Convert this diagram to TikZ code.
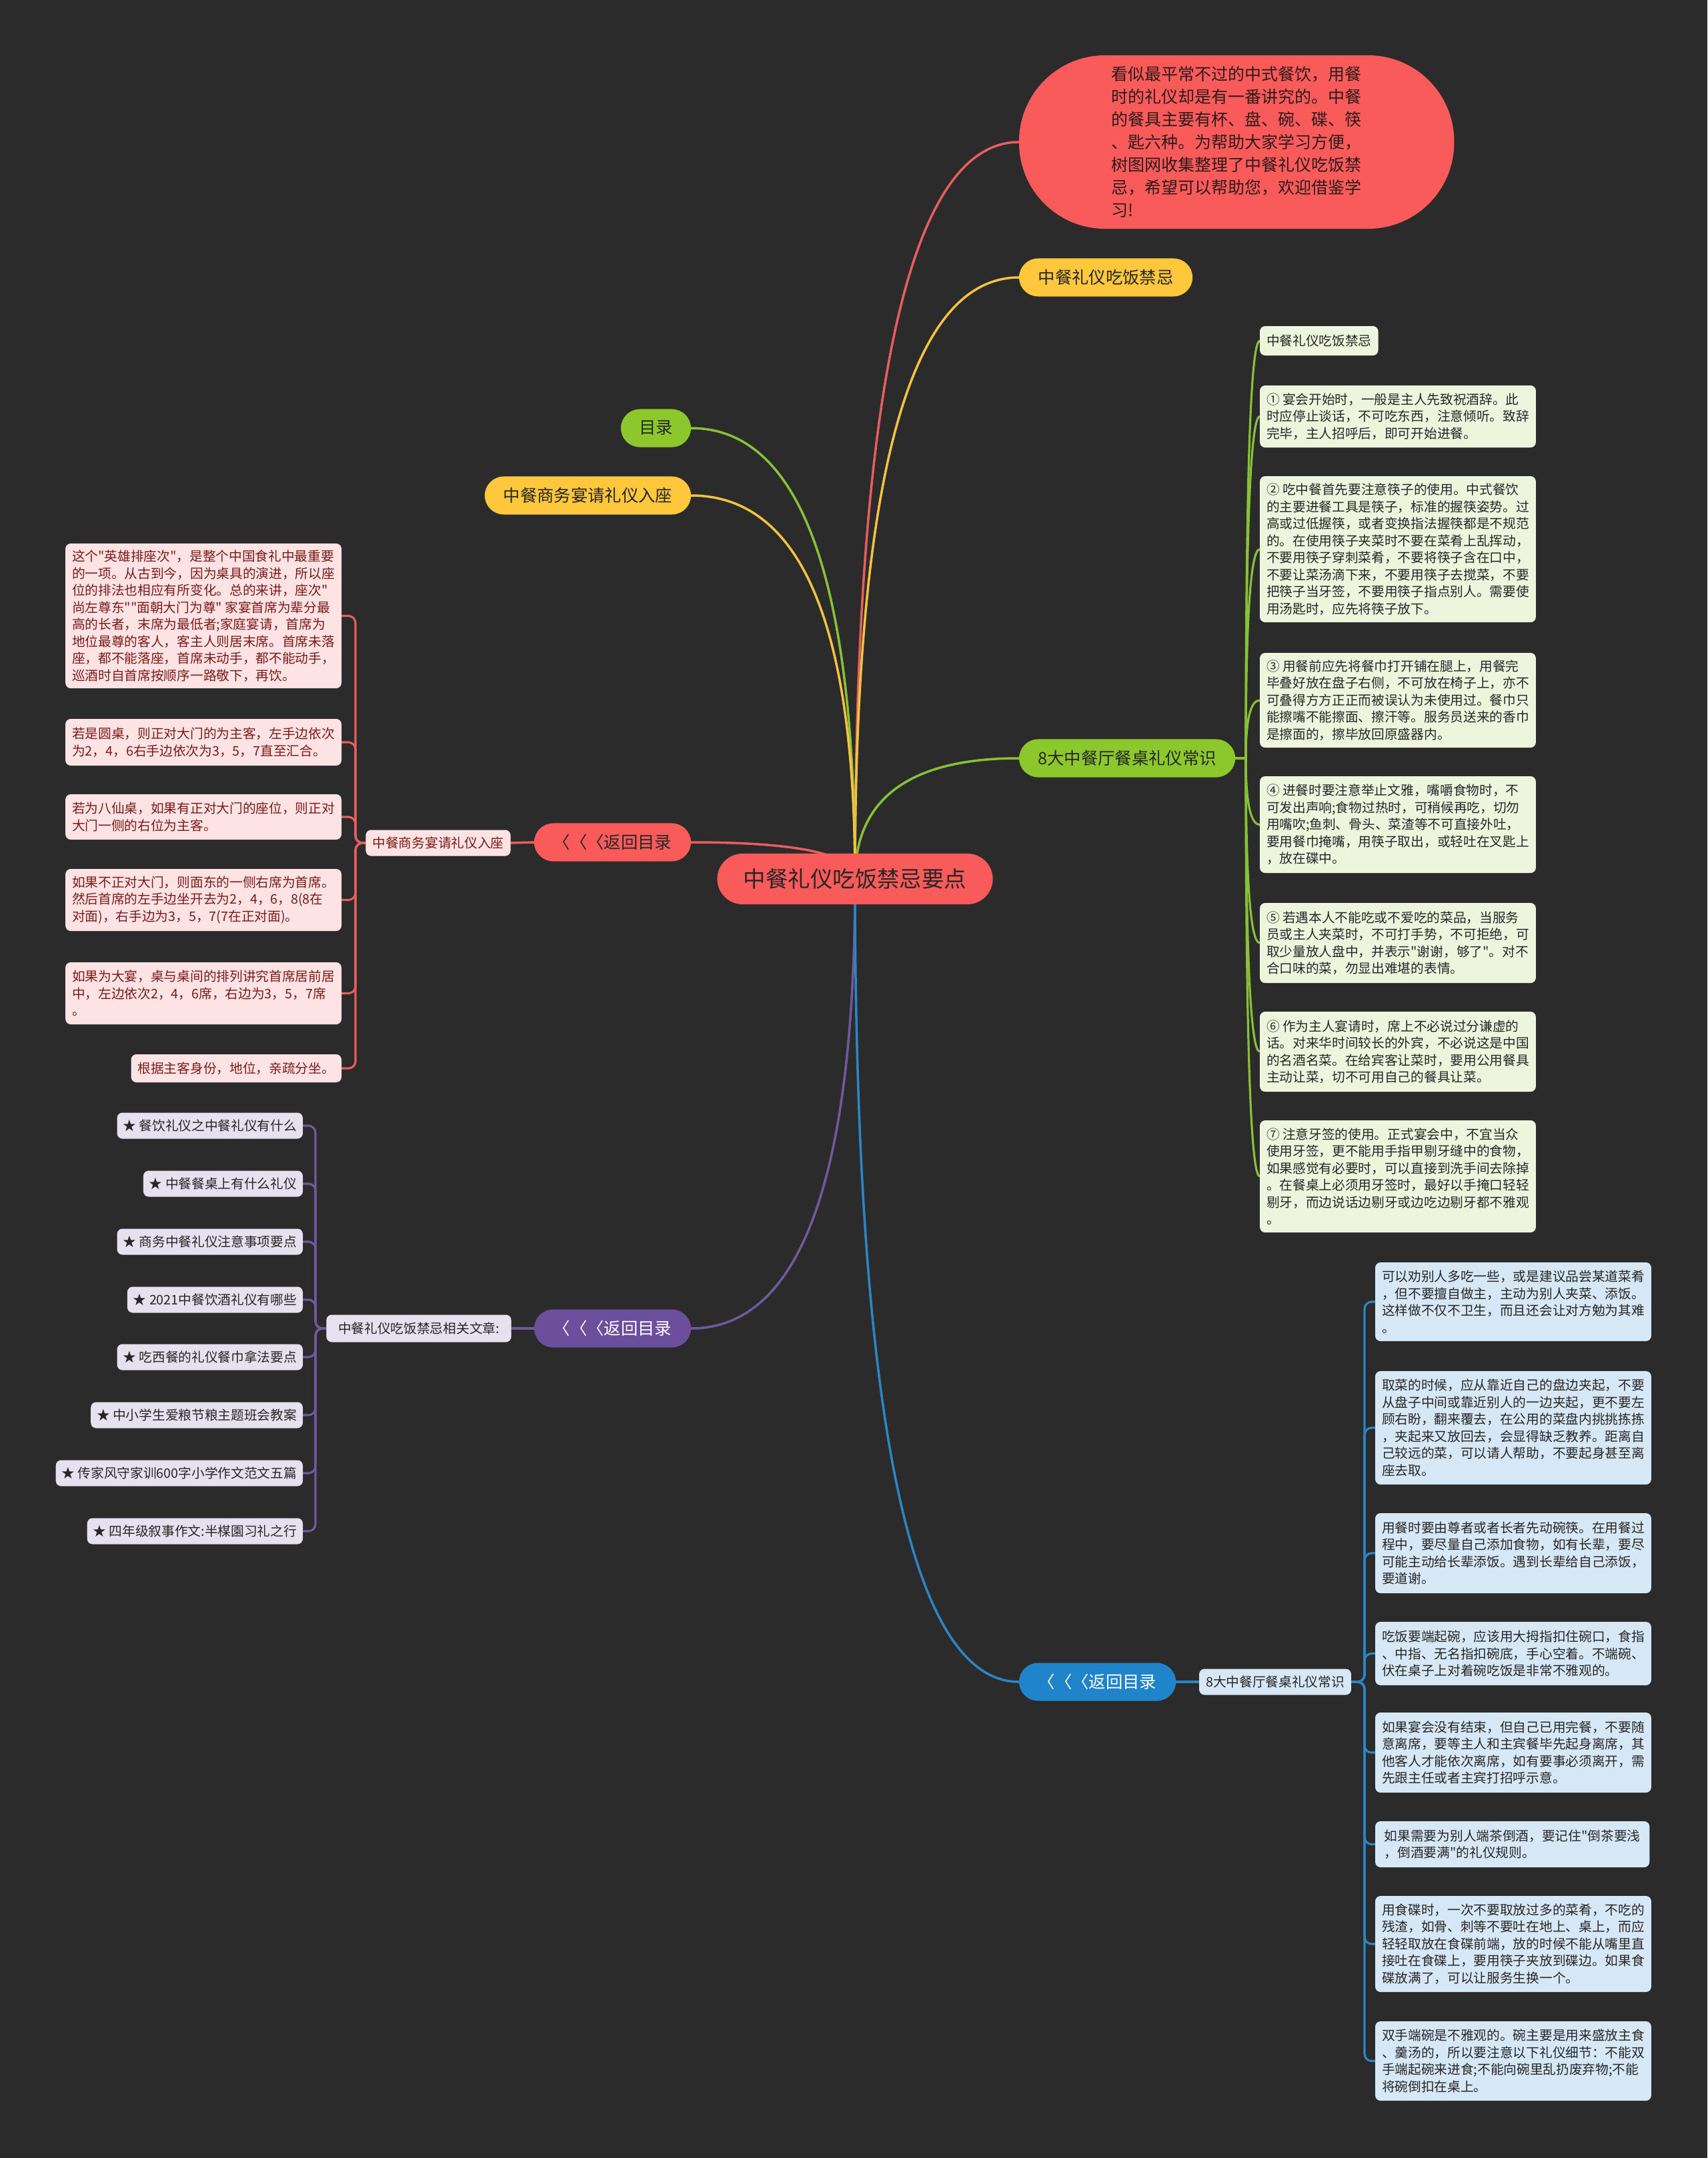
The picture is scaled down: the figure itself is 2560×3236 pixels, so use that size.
\documentclass[tikz,border=0pt]{standalone}
\usepackage{fontspec}
\setmainfont{Noto Sans CJK SC}
\newfontfamily\cjk{Noto Sans CJK SC}
\usetikzlibrary{calc}
\definecolor{bgc}{HTML}{2B2B2B}
\definecolor{redc}{HTML}{F95A5A}
\definecolor{redl}{HTML}{E85E5E}
\definecolor{yelc}{HTML}{FFC83C}
\definecolor{yell}{HTML}{F2C33F}
\definecolor{grnc}{HTML}{8CC72C}
\definecolor{grnl}{HTML}{87C236}
\definecolor{purc}{HTML}{6B4E9C}
\definecolor{purl}{HTML}{6F5A9E}
\definecolor{bluc}{HTML}{1F84C9}
\definecolor{blul}{HTML}{2A87C6}
\definecolor{gfill}{HTML}{EEF5DD}
\definecolor{pfill}{HTML}{FDE3E3}
\definecolor{ptext}{HTML}{7A1A1A}
\definecolor{vfill}{HTML}{E6E1EE}
\definecolor{bfill}{HTML}{D6E8F5}
\definecolor{txtdark}{HTML}{262626}
\definecolor{bubtext}{HTML}{2E1A1A}
\pgfdeclarelayer{back}
\pgfdeclarelayer{lines}
\pgfsetlayers{back,lines,main}
\tikzset{
  every node/.style={inner sep=0pt, outer sep=0pt},
  qc/.style={to path={.. controls ($(\tikztostart)!0.6667!(\tikztostart|-\tikztotarget)$) and ($(\tikztotarget)!0.6667!(\tikztostart|-\tikztotarget)$) .. (\tikztotarget)}},
  mline/.style={line width=1pt},
  brk/.style={line width=0.9pt, rounded corners=3pt},
  pill/.style={rectangle, rounded corners=0.285cm, minimum height=0.57cm, font=\cjk\fontsize{7.2pt}{9pt}\selectfont, text=txtdark},
  boxbase/.style={rectangle, rounded corners=0.08cm, align=left, font=\cjk\fontsize{5.6pt}{7.26pt}\selectfont, inner xsep=0.1cm},
  gbox/.style={boxbase, fill=gfill, text=txtdark, anchor=north west, minimum width=4.11cm},
  pbox/.style={boxbase, fill=pfill, text=ptext, anchor=north east, minimum width=4.11cm},
  bbox/.style={boxbase, fill=bfill, text=txtdark, anchor=north west, minimum width=4.11cm},
  vbox/.style={boxbase, fill=vfill, text=txtdark, anchor=east, minimum height=0.39cm, inner xsep=0.09cm},
}
\begin{document}
\cjk
\begin{tikzpicture}[x=0.01cm,y=-0.01cm]
\useasboundingbox (0,0) rectangle (2560,3236);
\begin{pgfonlayer}{back}
\fill[bgc] (0,0) rectangle (2560,3236);
\end{pgfonlayer}

% central and main nodes
\node[rectangle, fill=redc, rounded corners=0.38cm, minimum width=4.13cm, minimum height=0.76cm, font=\cjk\fontsize{9.5pt}{11pt}\selectfont, text=txtdark] (ctr) at (1282,1318) {中餐礼仪吃饭禁忌要点};

\node[rectangle, fill=redc, rounded corners=1.29cm, minimum width=6.52cm, minimum height=2.6cm, align=left, font=\cjk\fontsize{7.1pt}{9.67pt}\selectfont, text=bubtext, anchor=west] (bub) at (1528,213) {看似最平常不过的中式餐饮，用餐\\时的礼仪却是有一番讲究的。中餐\\的餐具主要有杯、盘、碗、碟、筷\\、匙六种。为帮助大家学习方便，\\树图网收集整理了中餐礼仪吃饭禁\\忌，希望可以帮助您，欢迎借鉴学\\习!};

\node[pill, fill=yelc, minimum width=2.6cm, anchor=west] (yjj) at (1528,416) {中餐礼仪吃饭禁忌};
\node[pill, fill=grnc, minimum width=1.05cm, anchor=east] (ml) at (1036,642) {目录};
\node[pill, fill=yelc, minimum width=3.09cm, anchor=east] (sw) at (1036,743) {中餐商务宴请礼仪入座};
\node[pill, fill=grnc, minimum width=3.24cm, anchor=west] (g8) at (1528,1137) {8大中餐厅餐桌礼仪常识};
\node[pill, fill=redc, minimum width=2.35cm, anchor=east] (rret) at (1036,1263) {〈〈〈返回目录};
\node[pill, fill=purc, text=white, minimum width=2.35cm, anchor=east] (vret) at (1036,1992) {〈〈〈返回目录};
\node[pill, fill=bluc, text=white, minimum width=2.35cm, anchor=west] (bret) at (1528,2522) {〈〈〈返回目录};

% small parent boxes
\node[boxbase, fill=pfill, text=ptext, minimum width=2.17cm, minimum height=0.39cm] (psmall) at (657,1264) {中餐商务宴请礼仪入座};
\node[boxbase, fill=vfill, text=txtdark, minimum width=2.77cm, minimum height=0.41cm] (vsmall) at (628,1992) {中餐礼仪吃饭禁忌相关文章:};
\node[boxbase, fill=bfill, text=txtdark, minimum width=2.27cm, minimum height=0.39cm] (bsmall) at (1912,2522) {8大中餐厅餐桌礼仪常识};

% green children
\node[gbox, minimum width=1.75cm, minimum height=0.44cm] (ga) at (1889,489) {中餐礼仪吃饭禁忌};
\node[gbox, minimum height=0.93cm] (gb) at (1889,578) {① 宴会开始时，一般是主人先致祝酒辞。此\\时应停止谈话，不可吃东西，注意倾听。致辞\\完毕，主人招呼后，即可开始进餐。};
\node[gbox, minimum height=2.19cm] (gc) at (1889,714) {② 吃中餐首先要注意筷子的使用。中式餐饮\\的主要进餐工具是筷子，标准的握筷姿势。过\\高或过低握筷，或者变换指法握筷都是不规范\\的。在使用筷子夹菜时不要在菜肴上乱挥动，\\不要用筷子穿刺菜肴，不要将筷子含在口中，\\不要让菜汤滴下来，不要用筷子去搅菜，不要\\把筷子当牙签，不要用筷子指点别人。需要使\\用汤匙时，应先将筷子放下。};
\node[gbox, minimum height=1.42cm] (gd) at (1889,979) {③ 用餐前应先将餐巾打开铺在腿上，用餐完\\毕叠好放在盘子右侧，不可放在椅子上，亦不\\可叠得方方正正而被误认为未使用过。餐巾只\\能擦嘴不能擦面、擦汗等。服务员送来的香巾\\是擦面的，擦毕放回原盛器内。};
\node[gbox, minimum height=1.45cm] (ge) at (1889,1164) {④ 进餐时要注意举止文雅，嘴嚼食物时，不\\可发出声响;食物过热时，可稍候再吃，切勿\\用嘴吹;鱼刺、骨头、菜渣等不可直接外吐，\\要用餐巾掩嘴，用筷子取出，或轻吐在叉匙上\\，放在碟中。};
\node[gbox, minimum height=1.2cm] (gf) at (1889,1354) {⑤ 若遇本人不能吃或不爱吃的菜品，当服务\\员或主人夹菜时，不可打手势，不可拒绝，可\\取少量放人盘中，并表示"谢谢，够了"。对不\\合口味的菜，勿显出难堪的表情。};
\node[gbox, minimum height=1.2cm] (gg) at (1889,1517) {⑥ 作为主人宴请时，席上不必说过分谦虚的\\话。对来华时间较长的外宾，不必说这是中国\\的名酒名菜。在给宾客让菜时，要用公用餐具\\主动让菜，切不可用自己的餐具让菜。};
\node[gbox, minimum height=1.68cm] (gh) at (1889,1680) {⑦ 注意牙签的使用。正式宴会中，不宜当众\\使用牙签，更不能用手指甲剔牙缝中的食物，\\如果感觉有必要时，可以直接到洗手间去除掉\\。在餐桌上必须用牙签时，最好以手掩口轻轻\\剔牙，而边说话边剔牙或边吃边剔牙都不雅观\\。};

% pink children
\node[pbox, minimum height=2.17cm] (pa) at (512,815) {这个"英雄排座次"，是整个中国食礼中最重要\\的一项。从古到今，因为桌具的演进，所以座\\位的排法也相应有所变化。总的来讲，座次"\\尚左尊东""面朝大门为尊" 家宴首席为辈分最\\高的长者，末席为最低者;家庭宴请，首席为\\地位最尊的客人，客主人则居末席。首席未落\\座，都不能落座，首席未动手，都不能动手，\\巡酒时自首席按顺序一路敬下，再饮。};
\node[pbox, minimum height=0.7cm] (pb) at (512,1078) {若是圆桌，则正对大门的为主客，左手边依次\\为2，4，6右手边依次为3，5，7直至汇合。};
\node[pbox, minimum height=0.68cm] (pc) at (512,1191) {若为八仙桌，如果有正对大门的座位，则正对\\大门一侧的右位为主客。};
\node[pbox, minimum height=0.93cm] (pd) at (512,1303) {如果不正对大门，则面东的一侧右席为首席。\\然后首席的左手边坐开去为2，4，6，8(8在\\对面)，右手边为3，5，7(7在正对面)。};
\node[pbox, minimum height=0.93cm] (pe) at (512,1443) {如果为大宴，桌与桌间的排列讲究首席居前居\\中，左边依次2，4，6席，右边为3，5，7席\\。};
\node[pbox, minimum width=3.14cm, minimum height=0.42cm] (pf) at (512,1581) {根据主客身份，地位，亲疏分坐。};

% purple children
\node[vbox] (va) at (454,1688) {★ 餐饮礼仪之中餐礼仪有什么};
\node[vbox] (vb) at (454,1775) {★ 中餐餐桌上有什么礼仪};
\node[vbox] (vc) at (454,1862) {★ 商务中餐礼仪注意事项要点};
\node[vbox] (vd) at (454,1949) {★ 2021中餐饮酒礼仪有哪些};
\node[vbox] (ve) at (454,2035) {★ 吃西餐的礼仪餐巾拿法要点};
\node[vbox] (vf) at (454,2122) {★ 中小学生爱粮节粮主题班会教案};
\node[vbox] (vg) at (454,2209) {★ 传家风守家训600字小学作文范文五篇};
\node[vbox] (vh) at (454,2296) {★ 四年级叙事作文:半楳園习礼之行};

% blue children
\node[bbox, minimum height=1.18cm] (ba) at (2062,1893) {可以劝别人多吃一些，或是建议品尝某道菜肴\\，但不要擅自做主，主动为别人夹菜、添饭。\\这样做不仅不卫生，而且还会让对方勉为其难\\。};
\node[bbox, minimum height=1.7cm] (bb) at (2062,2056) {取菜的时候，应从靠近自己的盘边夹起，不要\\从盘子中间或靠近别人的一边夹起，更不要左\\顾右盼，翻来覆去，在公用的菜盘内挑挑拣拣\\，夹起来又放回去，会显得缺乏教养。距离自\\己较远的菜，可以请人帮助，不要起身甚至离\\座去取。};
\node[bbox, minimum height=1.2cm] (bc) at (2062,2269) {用餐时要由尊者或者长者先动碗筷。在用餐过\\程中，要尽量自己添加食物，如有长辈，要尽\\可能主动给长辈添饭。遇到长辈给自己添饭，\\要道谢。};
\node[bbox, minimum height=0.95cm] (bd) at (2062,2432) {吃饭要端起碗，应该用大拇指扣住碗口，食指\\、中指、无名指扣碗底，手心空着。不端碗、\\伏在桌子上对着碗吃饭是非常不雅观的。};
\node[bbox, minimum height=1.2cm] (be) at (2062,2568) {如果宴会没有结束，但自己已用完餐，不要随\\意离席，要等主人和主宾餐毕先起身离席，其\\他客人才能依次离席，如有要事必须离开，需\\先跟主任或者主宾打招呼示意。};
\node[bbox, minimum height=0.69cm] (bf) at (2062,2731) {如果需要为别人端茶倒酒，要记住"倒茶要浅\\，倒酒要满"的礼仪规则。};
\node[bbox, minimum height=1.44cm] (bg) at (2062,2843) {用食碟时，一次不要取放过多的菜肴，不吃的\\残渣，如骨、刺等不要吐在地上、桌上，而应\\轻轻取放在食碟前端，放的时候不能从嘴里直\\接吐在食碟上，要用筷子夹放到碟边。如果食\\碟放满了，可以让服务生换一个。};
\node[bbox, minimum height=1.19cm] (bh) at (2062,3031) {双手端碗是不雅观的。碗主要是用来盛放主食\\、羹汤的，所以要注意以下礼仪细节：不能双\\手端起碗来进食;不能向碗里乱扔废弃物;不能\\将碗倒扣在桌上。};

\coordinate (gj) at (1868,1137);
\coordinate (pj) at (533,1264);
\coordinate (vj) at (473,1992);
\coordinate (bj) at (2046,2522);

\begin{pgfonlayer}{lines}
% main curves
\draw[mline, redl] (ctr.center) to[qc] (bub.west);
\draw[mline, yell] (ctr.center) to[qc] (yjj.west);
\draw[mline, grnl] (ctr.center) to[qc] (ml.east);
\draw[mline, yell] (ctr.center) to[qc] (sw.east);
\draw[mline, grnl] (ctr.center) to[qc] (g8.west);
\draw[mline, redl] (ctr.center) to[qc] (rret.east);
\draw[mline, purl] (ctr.center) to[qc] (vret.east);
\draw[mline, blul] (ctr.center) to[qc] (bret.west);
% pill to small boxes
\draw[mline, redl] (rret.west) -- (psmall.east);
\draw[mline, purl] (vret.west) -- (vsmall.east);
\draw[mline, blul] (bret.east) -- (bsmall.west);
% green bracket
\draw[mline, grnl] (g8.east) -- (gj);
\foreach \n in {ga,gb,gc,gd,ge,gf,gg,gh} \draw[line width=0.9pt, grnl] (gj) to[qc] (\n.west);
% pink bracket
\foreach \n in {pa,pb,pc,pd,pe,pf} \draw[brk, redl] (psmall.west) -- (pj) |- (\n.east);
% purple bracket
\foreach \n in {va,vb,vc,vd,ve,vf,vg,vh} \draw[brk, purl] (vsmall.west) -- (vj) |- (\n.east);
% blue bracket
\foreach \n in {ba,bb,bc,bd,be,bf,bg,bh} \draw[brk, blul] (bsmall.west) -- (bj) |- (\n.west);
\end{pgfonlayer}
\end{tikzpicture}
\end{document}
